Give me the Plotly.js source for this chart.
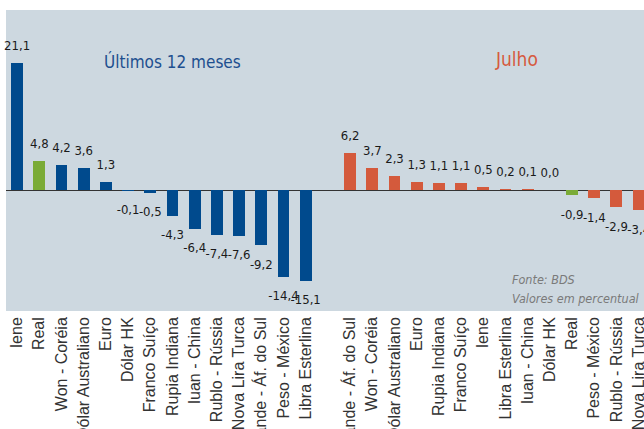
<!DOCTYPE html>
<html>
<head>
<meta charset="utf-8">
<script src="https://cdn.plot.ly/plotly-3.0.1.min.js"></script>
<style>html,body{margin:0;padding:0;background:#fff;overflow:hidden}</style>
</head>
<body>
<div id="chart" style="width:660px;height:429px"></div>
<script>
// Últimos 12 meses
const labels12 = ["Iene", "Real", "Won - Coréia", "Dólar Australiano", "Euro", "Dólar HK", "Franco Suíço", "Rupia Indiana", "Iuan - China", "Rublo - Rússia", "Nova Lira Turca", "Rande - Áf. do Sul", "Peso - México", "Libra Esterlina"];
const values12 = [21.1, 4.8, 4.2, 3.6, 1.3, -0.1, -0.5, -4.3, -6.4, -7.4, -7.6, -9.2, -14.4, -15.1];
// Julho
const labelsJul = ["Rande - Áf. do Sul", "Won - Coréia", "Dólar Australiano", "Euro", "Rupia Indiana", "Franco Suíço", "Iene", "Libra Esterlina", "Iuan - China", "Dólar HK", "Real", "Peso - México", "Rublo - Rússia", "Nova Lira Turca"];
const valuesJul = [6.2, 3.7, 2.3, 1.3, 1.1, 1.1, 0.5, 0.2, 0.1, 0.0, -0.9, -1.4, -2.9, -3.4];

const BLUE = "#004a8d", GREEN = "#7aab37", ORANGE = "#d45a3c";
const fmt = v => v.toFixed(1).replace(".", ",");
const x12 = labels12.map((_, i) => i);
const gap = labels12.length + 1;
const xJul = labelsJul.map((_, i) => gap + i);
const COND = "DejaVu Sans Condensed, sans-serif";
const labelFont = {family: COND, size: 13, color: "#1a1a1a"};

function barTrace(xs, ys, labels, color) {
  return {type: "bar", x: xs, y: ys, width: 0.54,
    marker: {color: labels.map(l => l === "Real" ? GREEN : color), line: {width: 0}}, hoverinfo: "skip"};
}
function textTrace(xs, ys) {
  return {type: "scatter", mode: "markers+text", x: xs, y: ys, text: ys.map(fmt),
    textposition: ys.map(v => v >= 0 ? "top center" : "bottom center"),
    marker: {size: ys.map(v => v >= 0 ? 14 : 20), color: "rgba(0,0,0,0)", line: {width: 0, color: "rgba(0,0,0,0)"}},
    textfont: labelFont, cliponaxis: false, hoverinfo: "skip"};
}

const traces = [
  barTrace(x12, values12, labels12, BLUE),
  barTrace(xJul, valuesJul, labelsJul, ORANGE),
  textTrace(x12, values12),
  textTrace(xJul, valuesJul)
];

const layout = {
  width: 660, height: 429,
  margin: {l: 6, r: 0, t: 10, b: 118},
  paper_bgcolor: "#ffffff", plot_bgcolor: "#cdd8e0",
  showlegend: false, bargap: 0,
  xaxis: {range: [-0.5, 28.96], tickvals: x12.concat(xJul), ticktext: labels12.concat(labelsJul),
          tickangle: -90, ticks: "", showgrid: false, zeroline: false, showline: false, automargin: false,
          ticklabelstandoff: 2,
          tickfont: {family: "Liberation Sans, Arial, sans-serif", size: 16, color: "#333333"}},
  yaxis: {range: [-20.1, 29.9], showgrid: false, showticklabels: false, ticks: "",
          zeroline: true, zerolinecolor: "#333333", zerolinewidth: 1, automargin: false},
  annotations: [
    {text: "Últimos 12 meses", xref: "paper", yref: "paper", x: 0.254, y: 0.828, xanchor: "center", yanchor: "middle",
     showarrow: false, font: {family: COND, size: 17, color: "#1d4f8f"}},
    {text: "Julho", xref: "paper", yref: "paper", x: 0.7804, y: 0.838, xanchor: "center", yanchor: "middle",
     showarrow: false, font: {family: COND, size: 19, color: "#d65a3e"}},
    {text: "<i>Fonte: BDS</i>", xref: "paper", yref: "paper", x: 0.7706, y: 0.103, xanchor: "left", yanchor: "middle",
     showarrow: false, font: {family: COND, size: 12.5, color: "#7a7a7a"}},
    {text: "<i>Valores em percentual</i>", xref: "paper", yref: "paper", x: 0.7706, y: 0.043, xanchor: "left", yanchor: "middle",
     showarrow: false, font: {family: COND, size: 12.5, color: "#7a7a7a"}}
  ]
};

Plotly.newPlot("chart", traces, layout, {displayModeBar: false, staticPlot: true});
</script>
</body>
</html>
